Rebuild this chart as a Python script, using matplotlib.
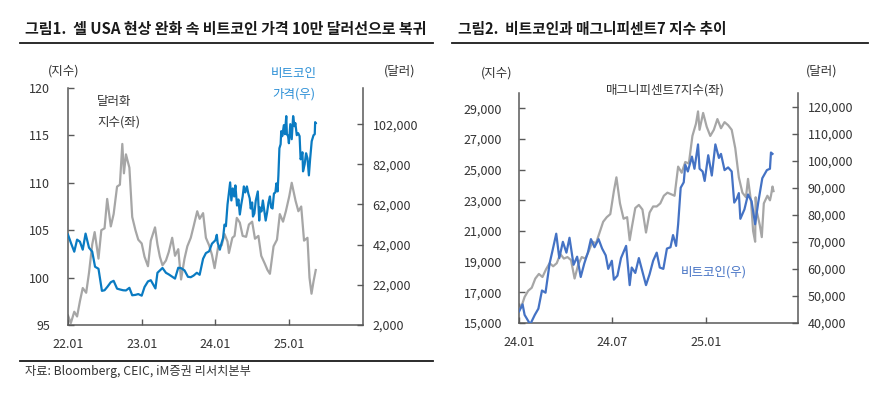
import matplotlib
matplotlib.use("Agg")
import matplotlib.pyplot as plt
import matplotlib.dates as mdates
from matplotlib.ticker import FuncFormatter
from matplotlib.lines import Line2D
import pandas as pd

plt.rcParams['font.family'] = ['Noto Sans CJK KR', 'DejaVu Sans']

# ---- data ----
dxy_dates = [
    "2022-01-01", "2022-01-15", "2022-02-01", "2022-02-15", "2022-03-01", "2022-03-15",
    "2022-04-01", "2022-04-15", "2022-05-01", "2022-05-13", "2022-06-01", "2022-06-15",
    "2022-07-01", "2022-07-14", "2022-08-01", "2022-08-15", "2022-09-01", "2022-09-15",
    "2022-09-27", "2022-10-05", "2022-10-15", "2022-11-01", "2022-11-15", "2022-12-01",
    "2022-12-15", "2023-01-01", "2023-01-15", "2023-02-01", "2023-02-15", "2023-03-08",
    "2023-03-20", "2023-04-01", "2023-04-14", "2023-05-01", "2023-05-15", "2023-06-01",
    "2023-06-15", "2023-07-01", "2023-07-15", "2023-08-01", "2023-08-15", "2023-09-01",
    "2023-09-15", "2023-10-03", "2023-10-15", "2023-11-01", "2023-11-15", "2023-12-01",
    "2023-12-15", "2023-12-28", "2024-01-15", "2024-02-01", "2024-02-15", "2024-03-01",
    "2024-03-08", "2024-03-25", "2024-04-05", "2024-04-16", "2024-05-01", "2024-05-15",
    "2024-06-01", "2024-06-15", "2024-07-01", "2024-07-15", "2024-08-01", "2024-08-15",
    "2024-09-01", "2024-09-15", "2024-09-27", "2024-10-15", "2024-11-01", "2024-11-15",
    "2024-12-01", "2024-12-15", "2025-01-01", "2025-01-13", "2025-02-01", "2025-02-15",
    "2025-03-01", "2025-03-15", "2025-04-01", "2025-04-11", "2025-04-21", "2025-05-01",
    "2025-05-12",
]
dxy_values = [
    96.0, 95.2, 96.4, 95.9, 97.5, 98.9,
    98.4, 100.5, 103.5, 104.8, 102.0, 105.0,
    105.2, 108.3, 105.4, 106.7, 109.6, 109.8,
    114.1, 111.0, 113.0, 111.6, 106.4, 105.0,
    104.0, 103.6, 102.2, 101.2, 103.9, 105.3,
    103.5, 102.2, 101.3, 101.8, 102.7, 104.2,
    102.3, 103.0, 99.8, 102.0, 103.3, 104.2,
    105.4, 107.0, 106.2, 106.8, 104.2, 103.4,
    102.4, 101.0, 103.3, 103.4, 104.6, 103.8,
    102.6, 104.2, 104.4, 106.3, 105.8, 104.4,
    104.3, 105.6, 105.9, 104.1, 104.4, 102.3,
    101.5, 100.8, 100.4, 103.3, 104.0, 106.7,
    105.9, 107.0, 108.6, 110.0, 108.1, 107.0,
    107.5, 103.9, 104.2, 100.0, 98.3, 99.6,
    100.8,
]

btc_dates = [
    "2022-01-01", "2022-01-15", "2022-02-01", "2022-02-15", "2022-03-01", "2022-03-15",
    "2022-03-29", "2022-04-15", "2022-05-01", "2022-05-15", "2022-06-01", "2022-06-18",
    "2022-07-01", "2022-07-15", "2022-08-01", "2022-08-15", "2022-09-01", "2022-09-15",
    "2022-10-01", "2022-10-15", "2022-11-01", "2022-11-15", "2022-12-01", "2022-12-15",
    "2023-01-01", "2023-01-15", "2023-02-01", "2023-02-15", "2023-03-10", "2023-03-20",
    "2023-04-14", "2023-05-01", "2023-05-15", "2023-06-15", "2023-07-01", "2023-07-15",
    "2023-08-01", "2023-08-18", "2023-09-01", "2023-09-15", "2023-10-01", "2023-10-15",
    "2023-11-01", "2023-11-15", "2023-12-01", "2023-12-15",
    "2024-01-01", "2024-01-08", "2024-01-12", "2024-01-23", "2024-02-01", "2024-02-08",
    "2024-02-15", "2024-02-22", "2024-03-01", "2024-03-07", "2024-03-14", "2024-03-20",
    "2024-03-27", "2024-04-03", "2024-04-09", "2024-04-17", "2024-04-24", "2024-05-01",
    "2024-05-08", "2024-05-15", "2024-05-21", "2024-05-28", "2024-06-05", "2024-06-12",
    "2024-06-19", "2024-06-24", "2024-07-01", "2024-07-05", "2024-07-12", "2024-07-19",
    "2024-07-29", "2024-08-05", "2024-08-09", "2024-08-16", "2024-08-23", "2024-08-30",
    "2024-09-06", "2024-09-13", "2024-09-20", "2024-09-27", "2024-10-03", "2024-10-10",
    "2024-10-17", "2024-10-24", "2024-10-29", "2024-11-04", "2024-11-08", "2024-11-13",
    "2024-11-19", "2024-11-22", "2024-11-27", "2024-12-05", "2024-12-10", "2024-12-17",
    "2024-12-20", "2024-12-26", "2024-12-30", "2025-01-06", "2025-01-13", "2025-01-20",
    "2025-01-27", "2025-01-31", "2025-02-07", "2025-02-14", "2025-02-21", "2025-02-26",
    "2025-03-03", "2025-03-07", "2025-03-10", "2025-03-18", "2025-03-25", "2025-04-01",
    "2025-04-08", "2025-04-14", "2025-04-22", "2025-05-01", "2025-05-07", "2025-05-09",
    "2025-05-12",
]
btc_values = [
    47000, 43000, 38500, 44500, 43500, 39500,
    47500, 40500, 38500, 31000, 30000, 19000,
    19300, 21000, 23300, 24000, 20100, 19700,
    19300, 19200, 20500, 16800, 17000, 17400,
    16600, 20900, 23700, 24300, 20200, 28000,
    30400, 28000, 27200, 25100, 30500, 30300,
    29200, 26000, 25800, 26600, 28000, 27000,
    35000, 37800, 38700, 42500,
    44200, 46900, 43000, 39500, 43000, 45300,
    52000, 51200, 62000, 67000, 73000, 64000,
    70000, 66000, 71500, 61500, 64500, 57000,
    62000, 66000, 71000, 68000, 71000, 67500,
    65000, 60000, 63000, 56000, 57500, 64000,
    68500, 54000, 60500, 58500, 64000, 59000,
    54000, 58000, 63000, 66000, 60500, 60000,
    67500, 68000, 72500, 68500, 76500, 90000,
    92000, 98500, 96000, 101500, 97000, 106000,
    97000, 96000, 92500, 102000, 94500, 106000,
    101000, 102500, 96500, 97500, 96000, 84500,
    86000, 88000, 78500, 82000, 87500, 85000,
    76500, 84500, 93500, 96500, 97000, 103000,
    102500,
]

m7_dates = [
    "2024-01-02", "2024-01-05", "2024-01-12", "2024-01-19", "2024-01-26", "2024-02-02",
    "2024-02-09", "2024-02-16", "2024-02-23", "2024-03-01", "2024-03-08", "2024-03-15",
    "2024-03-22", "2024-03-29", "2024-04-05", "2024-04-12", "2024-04-19", "2024-04-26",
    "2024-05-03", "2024-05-10", "2024-05-17", "2024-05-24", "2024-05-31", "2024-06-07",
    "2024-06-14", "2024-06-21", "2024-06-28", "2024-07-05", "2024-07-10", "2024-07-17",
    "2024-07-24", "2024-07-31", "2024-08-05", "2024-08-09", "2024-08-16", "2024-08-23",
    "2024-08-30", "2024-09-06", "2024-09-13", "2024-09-20", "2024-09-27", "2024-10-04",
    "2024-10-11", "2024-10-18", "2024-10-25", "2024-11-01", "2024-11-08", "2024-11-15",
    "2024-11-22", "2024-11-29", "2024-12-06", "2024-12-13", "2024-12-17", "2024-12-20",
    "2024-12-27", "2025-01-03", "2025-01-10", "2025-01-17", "2025-01-24", "2025-01-31",
    "2025-02-07", "2025-02-14", "2025-02-21", "2025-02-28", "2025-03-07", "2025-03-14",
    "2025-03-21", "2025-03-25", "2025-03-31", "2025-04-04", "2025-04-08", "2025-04-09",
    "2025-04-11", "2025-04-17", "2025-04-21", "2025-04-25", "2025-05-02", "2025-05-07",
    "2025-05-09", "2025-05-12", "2025-05-14",
]
m7_values = [
    16200, 16000, 16700, 17100, 17300, 17900,
    18200, 18000, 18500, 18900, 18700, 18900,
    19500, 19200, 19300, 19100, 17900, 18800,
    19300, 19200, 19700, 20300, 20200, 20900,
    21600, 21900, 22100, 23600, 24500, 22800,
    21800, 21900, 20400, 21200, 22500, 22700,
    22400, 20900, 22200, 22600, 22600, 22800,
    23300, 23500, 23400, 23300, 25200, 24800,
    25500, 25400, 27200, 28000, 28800, 27600,
    28700, 27800, 27200, 27600, 28300, 27700,
    28100, 27900, 27600, 26400, 24500, 23500,
    23200, 24400, 22900, 21000, 20300, 23200,
    22300, 21400, 20600, 22800, 23300, 23000,
    23300, 23900, 23600,
]

GRAY = "#a6a6a6"
BLUE1 = "#0a7bc2"
BLUE2 = "#4472c4"
SPINE = "#595959"
TXT = "#333333"

W, H = 881, 393


def fx(x):
    return x / W


def fy(y):
    return 1 - y / H


def comma(v, _):
    return f"{int(round(v)):,}"


def style_pair(ax, ax2, lpad, rpad):
    ax.spines["top"].set_visible(False)
    ax.spines["right"].set_visible(False)
    for s in ["top", "left", "bottom"]:
        ax2.spines[s].set_visible(False)
    for s in ["left", "bottom"]:
        ax.spines[s].set_color(SPINE)
        ax.spines[s].set_linewidth(1.1)
    ax2.spines["right"].set_color(SPINE)
    ax2.spines["right"].set_linewidth(1.1)
    ax.tick_params(axis="y", direction="in", length=4, width=1, color=SPINE,
                   labelsize=9, labelcolor=TXT, pad=lpad)
    ax.tick_params(axis="x", direction="in", length=4, width=1, color=SPINE,
                   labelsize=9, labelcolor=TXT, pad=9)
    ax2.tick_params(axis="y", direction="in", length=4, width=1, color=SPINE,
                    labelsize=9, labelcolor=TXT, pad=rpad)


fig = plt.figure(figsize=(W / 100, H / 100), dpi=100)

# ---- panel 1: dollar index vs bitcoin ----
ax = fig.add_axes([fx(68), fy(325), fx(363 - 68), (325 - 88) / H])
ax2 = ax.twinx()
ax.plot(pd.to_datetime(dxy_dates), dxy_values, color=GRAY, lw=1.6)
ax2.plot(pd.to_datetime(btc_dates), btc_values, color=BLUE1, lw=1.6)
ax.set_xlim(pd.Timestamp("2022-01-01"), pd.Timestamp("2026-01-01"))
ax.set_ylim(95, 120)
ax.set_yticks(range(95, 121, 5))
ax2.set_ylim(2000, 120000)
ax2.set_yticks(range(2000, 102001, 20000))
ax2.yaxis.set_major_formatter(FuncFormatter(comma))
ax.set_xticks(pd.to_datetime(["2022-01-01", "2023-01-01", "2024-01-01", "2025-01-01"]))
ax.xaxis.set_major_formatter(mdates.DateFormatter("%y.%m"))
style_pair(ax, ax2, 13, 7)

# ---- panel 2: magnificent 7 vs bitcoin ----
bx = fig.add_axes([fx(519), fy(323), fx(798 - 519), (323 - 93) / H])
bx2 = bx.twinx()
bx.plot(pd.to_datetime(m7_dates), m7_values, color=GRAY, lw=1.6)
bx2.plot(pd.to_datetime(btc_dates), btc_values, color=BLUE2, lw=1.6)
bx.set_xlim(pd.Timestamp("2024-01-01"), pd.Timestamp("2025-07-01"))
bx.set_ylim(15000, 30000)
bx.set_yticks(range(15000, 29001, 2000))
bx.yaxis.set_major_formatter(FuncFormatter(comma))
bx2.set_ylim(40000, 125000)
bx2.set_yticks(range(40000, 120001, 10000))
bx2.yaxis.set_major_formatter(FuncFormatter(comma))
bx.set_xticks(pd.to_datetime(["2024-01-01", "2024-07-01", "2025-01-01"]))
bx.xaxis.set_major_formatter(mdates.DateFormatter("%y.%m"))
style_pair(bx, bx2, 12, 7)

# ---- titles, rules, labels ----
fig.text(fx(25), fy(29), "그림1.  셀 USA 현상 완화 속 비트코인 가격 10만 달러선으로 복귀",
         fontsize=10.8, fontweight="bold", color="#1a1a1a", va="center")
fig.text(fx(458), fy(29), "그림2.  비트코인과 매그니피센트7 지수 추이",
         fontsize=10.6, fontweight="bold", color="#1a1a1a", va="center")
for x0, x1, y in [(20, 433, 43), (452, 868, 43), (20, 433, 361)]:
    fig.add_artist(Line2D([fx(x0), fx(x1)], [fy(y), fy(y)], color="#1a1a1a", lw=1.3))

small = dict(fontsize=9, ha="center", va="center")
fig.text(fx(64), fy(71), "(지수)", color=TXT, **small)
fig.text(fx(400), fy(71), "(달러)", color=TXT, **small)
fig.text(fx(294), fy(73), "비트코인", color="#2b8fd6", **small)
fig.text(fx(294), fy(94), "가격(우)", color="#2b8fd6", **small)
fig.text(fx(97), fy(102), "달러화", color=TXT, fontsize=9, ha="left", va="center")
fig.text(fx(97), fy(122), "지수(좌)", color=TXT, fontsize=9, ha="left", va="center")

fig.text(fx(497), fy(73), "(지수)", color=TXT, **small)
fig.text(fx(822), fy(71), "(달러)", color=TXT, **small)
fig.text(fx(665), fy(90), "매그니피센트7지수(좌)", color=TXT, **small)
fig.text(fx(714), fy(272), "비트코인(우)", color=BLUE2, **small)

fig.text(fx(25), fy(372), "자료: Bloomberg, CEIC, iM증권 리서치본부",
         fontsize=8.8, color=TXT, va="center")

fig.savefig("out.png", dpi=100)
